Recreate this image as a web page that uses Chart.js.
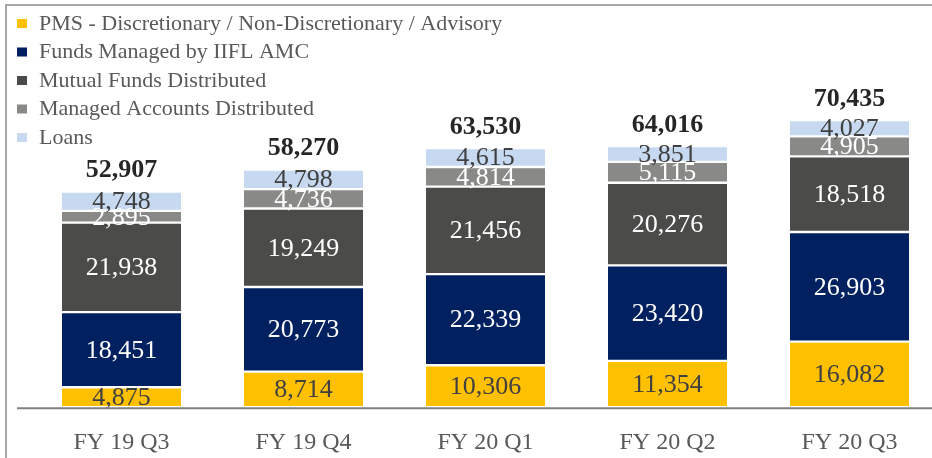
<!DOCTYPE html>
<html>
<head>
<meta charset="utf-8">
<script src="https://cdn.jsdelivr.net/npm/chart.js@4.4.0/dist/chart.umd.min.js"></script>
<style>
html, body { margin: 0; padding: 0; background: #fff; overflow: hidden; width: 932px; height: 458px; }
#frame { position: absolute; left: 5px; top: 4px; width: 1000px; height: 1000px; border-left: 2px solid #a6a6a6; border-top: 2px solid #a6a6a6; }
canvas { position: absolute; left: 0; top: 0; }
</style>
</head>
<body>
<div id="frame"></div>
<canvas id="aum" width="945" height="458"></canvas>
<script>
const quarters = ['FY 19 Q3', 'FY 19 Q4', 'FY 20 Q1', 'FY 20 Q2', 'FY 20 Q3'];
const pms = [4875, 8714, 10306, 11354, 16082];
const amcFunds = [18451, 20773, 22339, 23420, 26903];
const mfDistributed = [21938, 19249, 21456, 20276, 18518];
const managedAccounts = [2895, 4736, 4814, 5115, 4905];
const loans = [4748, 4798, 4615, 3851, 4027];

const serif = '"Liberation Serif", "DejaVu Serif", serif';

function seg(label, values, color, textColor) {
    return {
        label: label,
        data: values,
        backgroundColor: color,
        borderColor: '#ffffff',
        borderWidth: { top: 1.2, bottom: 1.2, left: 0, right: 0 },
        borderSkipped: false,
        labelColor: textColor,
        categoryPercentage: 1,
        barPercentage: 0.654,
    };
}

// labels in segments, totals, axis line and legend
const extras = {
    id: 'extras',
    afterDatasetsDraw(chart) {
        const ctx = chart.ctx;
        const sets = chart.data.datasets;
        ctx.save();
        ctx.textAlign = 'center';
        ctx.textBaseline = 'middle';
        ctx.font = '26px ' + serif;
        sets.forEach((ds, di) => {
            chart.getDatasetMeta(di).data.forEach((bar, i) => {
                ctx.fillStyle = ds.labelColor;
                ctx.fillText(ds.data[i].toLocaleString('en-US'), bar.x, (bar.y + bar.base) / 2 + 1);
            });
        });

        const top = chart.getDatasetMeta(sets.length - 1).data;
        ctx.font = 'bold 26px ' + serif;
        ctx.fillStyle = '#262626';
        quarters.forEach((q, i) => {
            let total = 0;
            sets.forEach(ds => total += ds.data[i]);
            ctx.fillText(total.toLocaleString('en-US'), top[i].x, top[i].y - 21);
        });

        const area = chart.chartArea;
        ctx.strokeStyle = '#808080';
        ctx.lineWidth = 2;
        ctx.beginPath();
        ctx.moveTo(17, area.bottom + 1);
        ctx.lineTo(chart.width, area.bottom + 1);
        ctx.stroke();

        ctx.textAlign = 'left';
        ctx.font = '22px ' + serif;
        sets.forEach((ds, di) => {
            const y = 23 + di * 28.5;
            ctx.fillStyle = ds.backgroundColor;
            ctx.fillRect(17, y - 4, 10, 9);
            ctx.fillStyle = '#595959';
            ctx.fillText(ds.label, 39, y + 1);
        });
        ctx.restore();
    }
};

new Chart(document.getElementById('aum'), {
    type: 'bar',
    data: {
        labels: quarters,
        datasets: [
            seg('PMS - Discretionary / Non-Discretionary / Advisory', pms, '#ffc000', '#404040'),
            seg('Funds Managed by IIFL AMC', amcFunds, '#002060', '#ffffff'),
            seg('Mutual Funds Distributed', mfDistributed, '#4b4b49', '#ffffff'),
            seg('Managed Accounts Distributed', managedAccounts, '#898987', '#ffffff'),
            seg('Loans', loans, '#c6d9f1', '#404040'),
        ]
    },
    options: {
        responsive: false,
        animation: false,
        layout: { padding: { left: 30.5, right: 4.5, top: 81, bottom: -20 } },
        plugins: { legend: { display: false }, tooltip: { enabled: false } },
        scales: {
            x: {
                stacked: true,
                grid: { display: false, drawTicks: false },
                border: { display: false },
                ticks: { color: '#595959', padding: 21, font: { family: serif, size: 24 } }
            },
            y: {
                stacked: true,
                display: false,
                min: 0,
                max: 80000
            }
        }
    },
    plugins: [extras]
});
</script>
</body>
</html>
